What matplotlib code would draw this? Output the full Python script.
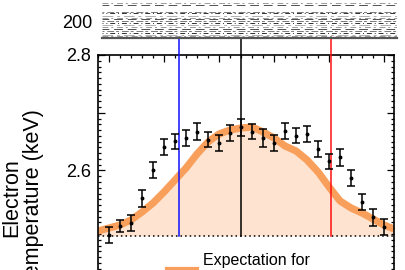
import matplotlib
matplotlib.use("Agg")
import matplotlib.pyplot as plt
from matplotlib.ticker import MultipleLocator, FuncFormatter
from matplotlib.lines import Line2D

plt.rcParams['font.family'] = ['Liberation Sans', 'DejaVu Sans']

# ---- data ----
chan = list(range(26))
te = [2.488, 2.504, 2.509, 2.552, 2.601, 2.641, 2.651, 2.656, 2.667, 2.653,
      2.648, 2.665, 2.675, 2.667, 2.656, 2.648, 2.668, 2.660, 2.663, 2.637,
      2.616, 2.623, 2.587, 2.545, 2.519, 2.502]
te_err = [0.014, 0.010, 0.014, 0.015, 0.014, 0.014, 0.013, 0.014, 0.015, 0.013,
          0.014, 0.014, 0.015, 0.013, 0.015, 0.014, 0.014, 0.013, 0.014, 0.014,
          0.013, 0.015, 0.014, 0.014, 0.015, 0.014]
curve_x = [-1.0, 0, 1, 2, 3, 4, 5, 6, 7, 8, 9, 10, 11, 12, 13, 14, 15, 16, 17,
           18, 19, 20, 21, 22, 23, 24, 25, 25.9]
curve_y = [2.4952, 2.5004, 2.5056, 2.5143, 2.5281, 2.5437, 2.5628, 2.5836,
           2.6043, 2.6286, 2.6494, 2.6632, 2.6701, 2.6736, 2.6753, 2.6667,
           2.6563, 2.6424, 2.6338, 2.6182, 2.5974, 2.5714, 2.5472, 2.5351,
           2.5264, 2.5160, 2.5056, 2.4987]
baseline = 2.487
marker_x = [6.36, 12.0, 20.18]
marker_colors = ['#1010ff', 'black', '#ff1010']
top_levels = [248, 243, 225, 220, 214, 209, 204, 199, 194, 189, 184, 179,
              174, 169, 164, 160]
top_ticks = [200]
legend_label = "Expectation for\nflat profile"

# ---- figure ----
W, H = 405, 270
fig = plt.figure(figsize=(W / 100, H / 100), dpi=100)

def fx(px):
    return px / W

def fy(py):
    return 1 - py / H

# lower panel
ax_bot_px, ax_top_px = 286, 55
ax = fig.add_axes([fx(98), fy(ax_bot_px), fx(394) - fx(98), fy(ax_top_px) - fy(ax_bot_px)])
ax.set_xlim(-1.0, 25.9)
ax.set_ylim(2.4, 2.8)

ax.fill_between(curve_x, curve_y, baseline, color='#fde3d0', lw=0, zorder=1)
ax.plot(curve_x, curve_y, color='#f99f5c', lw=5.2, solid_capstyle='butt', zorder=2)
ax.plot([-1.0, 25.9], [baseline, baseline], color='black', lw=1.1,
        linestyle=(0, (1, 2.0)), zorder=3)
ax.errorbar(chan, te, yerr=te_err, fmt='o', color='black', ms=1.8,
            elinewidth=1.1, capsize=2.6, capthick=1.1, zorder=5)
for xm, cm in zip(marker_x, marker_colors):
    ax.plot([xm, xm], [baseline, 2.9], color=cm, lw=1.1, clip_on=False, zorder=4)

ax.yaxis.set_major_locator(MultipleLocator(0.1))
ax.yaxis.set_minor_locator(MultipleLocator(0.01))
ax.yaxis.set_major_formatter(FuncFormatter(
    lambda v, p: f"{v:.1f}" if abs(round(v * 10) % 2) == 0 else ""))
ax.xaxis.set_major_locator(MultipleLocator(5))
ax.xaxis.set_minor_locator(MultipleLocator(1))
ax.tick_params(axis='both', which='both', direction='in', top=True, right=True,
               labelbottom=False, width=0.9)
ax.tick_params(axis='both', which='major', length=5)
ax.tick_params(axis='both', which='minor', length=2.5)
ax.tick_params(axis='y', labelsize=13, pad=5)
for s in ax.spines.values():
    s.set_linewidth(1.2)
ax.set_ylabel("Electron\nTemperature (keV)", fontsize=15.5, linespacing=1.05)
span = ax_bot_px - ax_top_px
ax.yaxis.set_label_coords((44 - 98) / 296, (ax_bot_px - 198) / span)

handle = Line2D([], [], color='#f99f5c', lw=5.2)
leg = ax.legend([handle], [legend_label], loc='upper left', frameon=False,
                bbox_to_anchor=(fx(168), fy(253)), bbox_transform=fig.transFigure,
                fontsize=11.5, handlelength=1.7, handletextpad=0.5,
                borderpad=0, borderaxespad=0)
leg.get_texts()[0].set_linespacing(1.3)

# upper panel
ax2 = fig.add_axes([fx(102), fy(38), fx(397) - fx(102), fy(0) - fy(38)])
ax2.set_xlim(0, 1)
ax2.set_ylim(155.3, 255.3)
dash_styles = [(0, (6, 3, 2, 4)), (2, (9, 5)), (1, (3, 3, 7, 2)),
               (4, (5, 3, 1, 3)), (0, (11, 4, 3, 4))]
grays = ['#9a9a9a', '#505050', '#7a7a7a', '#303030', '#b0b0b0']
for k, lev in enumerate(top_levels):
    ax2.plot([0, 1], [lev, lev], color=grays[k % 5], lw=0.7,
             linestyle=dash_styles[k % 5])
for name in ['top', 'left', 'right']:
    ax2.spines[name].set_visible(False)
ax2.spines['bottom'].set_color('#555555')
ax2.spines['bottom'].set_linewidth(1.6)
ax2.set_xticks([])
ax2.set_yticks(top_ticks)
ax2.tick_params(axis='y', length=0, labelsize=13, pad=7)

fig.savefig("out.png", dpi=100)
